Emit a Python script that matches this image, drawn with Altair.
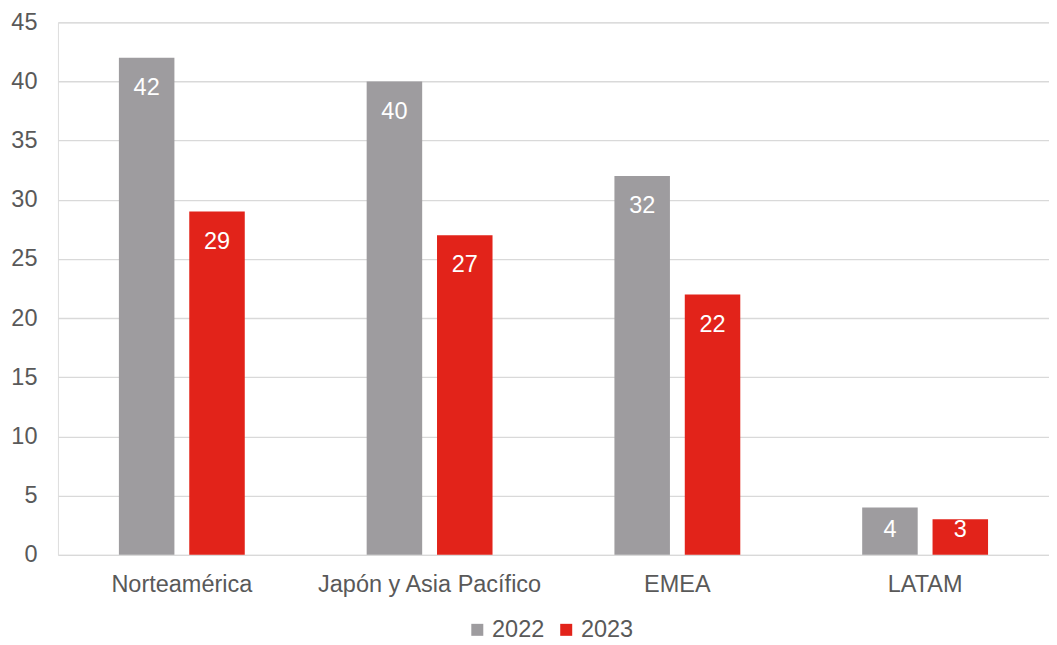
import altair as alt
import pandas as pd

regions = ["Norteamérica", "Japón y Asia Pacífico", "EMEA", "LATAM"]
years = ["2022", "2023"]
v2022 = [42, 40, 32, 4]
v2023 = [29, 27, 22, 3]
y_ticks = [0, 5, 10, 15, 20, 25, 30, 35, 40, 45]

rows = []
for i, r in enumerate(regions):
    rows.append({"region": r, "year": years[0], "value": v2022[i]})
    rows.append({"region": r, "year": years[1], "value": v2023[i]})
df = pd.DataFrame(rows)

FONT = "Liberation Sans"
TEXT = "#595959"
GREY = "#9E9C9F"
RED = "#E2231A"
FS = 23.5

x = alt.X(
    "region:N", sort=regions, title=None,
    scale=alt.Scale(paddingInner=0.492, paddingOuter=0.246),
    axis=alt.Axis(labelFontSize=FS, labelColor=TEXT, labelFont=FONT, ticks=False,
                  domain=False, labelPadding=18, labelAngle=0, labelLimit=0),
)
xo = alt.XOffset("year:N", sort=years, scale=alt.Scale(paddingInner=0.211, paddingOuter=0))
y = alt.Y(
    "value:Q", title=None,
    scale=alt.Scale(domain=[0, 45], nice=False),
    axis=alt.Axis(values=y_ticks, labelFontSize=FS, labelColor=TEXT, labelFont=FONT,
                  gridColor="#D9D9D9", gridWidth=1.3, domain=False, ticks=False, tickSize=0,
                  labelPadding=21),
)
color = alt.Color(
    "year:N", sort=years,
    scale=alt.Scale(domain=years, range=[GREY, RED]),
    legend=alt.Legend(title=None, orient="none", legendX=408, legendY=596,
                      direction="horizontal", symbolType="square",
                      symbolSize=144, symbolStrokeWidth=0, labelFontSize=FS, labelColor=TEXT,
                      labelFont=FONT, columnPadding=10, labelOffset=3),
)

base = alt.Chart(df)
bars = base.mark_bar().encode(x=x, xOffset=xo, y=y, color=color)
labels = base.transform_calculate(
    labelPos="max(datum.value - 2.55, 2.1)"
).mark_text(color="white", fontSize=FS, font=FONT, baseline="middle", align="center").encode(
    x=x, xOffset=xo, y=alt.Y("labelPos:Q"), text=alt.Text("value:Q")
)

chart = alt.layer(bars, labels).properties(
    width=992, height=533,
    padding={"left": 2, "top": 2, "right": 0, "bottom": 0},
).configure_view(stroke=None).configure(background="white")

chart.save("out.html", embed_options={"renderer": "svg", "actions": False})
